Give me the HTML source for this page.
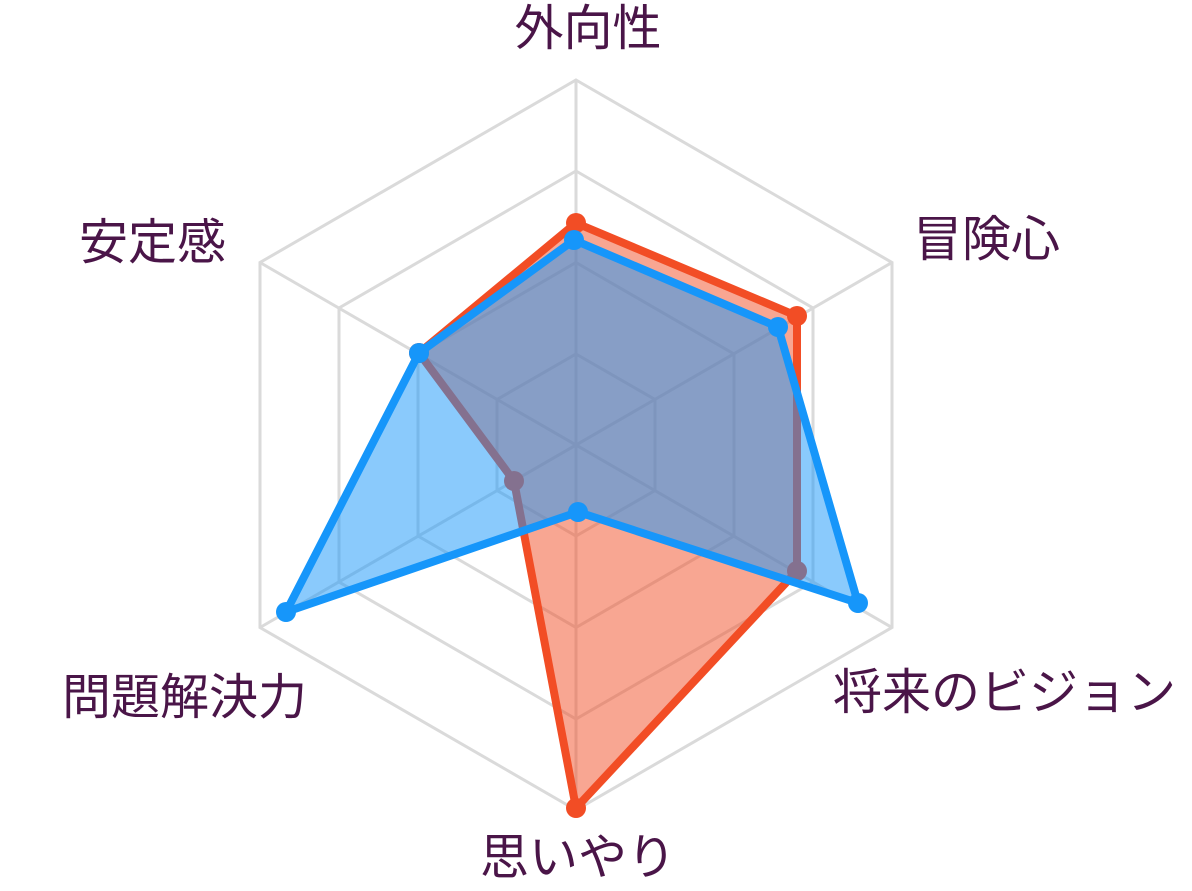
<!DOCTYPE html>
<html><head><meta charset="utf-8"><style>
html,body{margin:0;padding:0;background:#fff;}
svg{display:block;}
text{font-family:"Liberation Sans","Noto Sans CJK JP",sans-serif;font-size:49px;fill:#4a1548;}
</style></head><body>
<svg width="1192" height="891" viewBox="0 0 1192 891">
<g fill="none" stroke="#dadada" stroke-width="3">
<polygon points="576,80 892,262.5 892,627.5 576,810 260,627.5 260,262.5"/>
<polygon points="576,171 813,308 813,582 576,719 339,582 339,308"/>
<polygon points="576,262.5 734,354 734,536 576,627.5 418,536 418,354"/>
<polygon points="576,354 655,399.5 655,490.5 576,536 497,490.5 497,399.5"/>
<line x1="576" y1="80" x2="576" y2="810"/>
<line x1="260" y1="262.5" x2="892" y2="627.5"/>
<line x1="892" y1="262.5" x2="260" y2="627.5"/>
</g>
<polygon points="576,223 797,316 797,571 576,808 514,481 419,353" fill="rgba(242,77,37,0.5)" stroke="#f24d25" stroke-width="8" stroke-linejoin="round"/>
<g fill="#f24d25"><circle cx="576" cy="223" r="10"/><circle cx="797" cy="316" r="10"/><circle cx="797" cy="571" r="10"/><circle cx="576" cy="808" r="10"/><circle cx="514" cy="481" r="10"/><circle cx="419" cy="353" r="10"/></g>
<polygon points="574,240 778,327 858,603 578,512 286,612 419,353" fill="rgba(22,150,250,0.5)" stroke="#1696fa" stroke-width="8" stroke-linejoin="round"/>
<g fill="#1696fa"><circle cx="574" cy="240" r="10"/><circle cx="778" cy="327" r="10"/><circle cx="858" cy="603" r="10"/><circle cx="578" cy="512" r="10"/><circle cx="286" cy="612" r="10"/><circle cx="419" cy="353" r="10"/></g>
<text x="588" y="45" text-anchor="middle">外向性</text>
<text x="913" y="256">冒険心</text>
<text x="833" y="709">将来のビジョン</text>
<text x="578" y="874" text-anchor="middle">思いやり</text>
<text x="62" y="714">問題解決力</text>
<text x="79" y="259">安定感</text>
</svg>
</body></html>
